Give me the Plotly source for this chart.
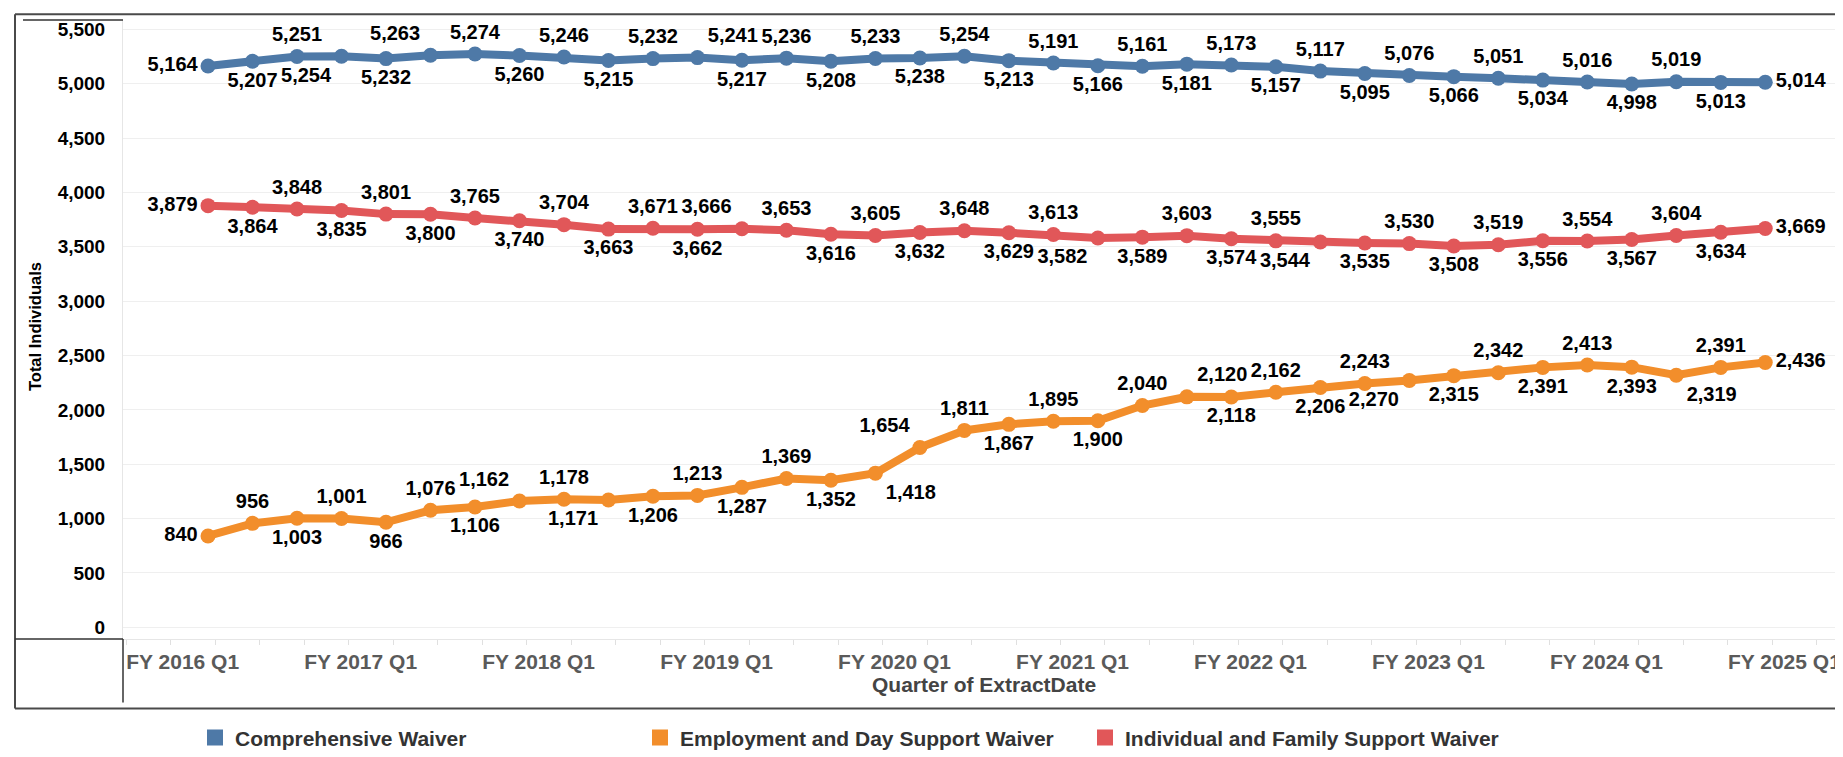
import plotly.graph_objects as go

# ---------------- data ----------------
quarters = [
    "FY 2016 Q3", "FY 2016 Q4",
    "FY 2017 Q1", "FY 2017 Q2", "FY 2017 Q3", "FY 2017 Q4",
    "FY 2018 Q1", "FY 2018 Q2", "FY 2018 Q3", "FY 2018 Q4",
    "FY 2019 Q1", "FY 2019 Q2", "FY 2019 Q3", "FY 2019 Q4",
    "FY 2020 Q1", "FY 2020 Q2", "FY 2020 Q3", "FY 2020 Q4",
    "FY 2021 Q1", "FY 2021 Q2", "FY 2021 Q3", "FY 2021 Q4",
    "FY 2022 Q1", "FY 2022 Q2", "FY 2022 Q3", "FY 2022 Q4",
    "FY 2023 Q1", "FY 2023 Q2", "FY 2023 Q3", "FY 2023 Q4",
    "FY 2024 Q1", "FY 2024 Q2", "FY 2024 Q3", "FY 2024 Q4",
    "FY 2025 Q1", "FY 2025 Q2",
]

year_ticks = [
    "FY 2016 Q1", "FY 2017 Q1", "FY 2018 Q1", "FY 2019 Q1", "FY 2020 Q1",
    "FY 2021 Q1", "FY 2022 Q1", "FY 2023 Q1", "FY 2024 Q1", "FY 2025 Q1",
]

comprehensive = [
    5164, 5207, 5251, 5254, 5232, 5263, 5274, 5260, 5246, 5215,
    5232, 5241, 5217, 5236, 5208, 5233, 5238, 5254, 5213, 5191,
    5166, 5161, 5181, 5173, 5157, 5117, 5095, 5076, 5066, 5051,
    5034, 5016, 4998, 5019, 5013, 5014,
]
employment = [
    840, 956, 1003, 1001, 966, 1076, 1106, 1162, 1178, 1171,
    1206, 1213, 1287, 1369, 1352, 1418, 1654, 1811, 1867, 1895,
    1900, 2040, 2120, 2118, 2162, 2206, 2243, 2270, 2315, 2342,
    2391, 2413, 2393, 2319, 2391, 2436,
]
individual = [
    3879, 3864, 3848, 3835, 3801, 3800, 3765, 3740, 3704, 3663,
    3671, 3662, 3666, 3653, 3616, 3605, 3632, 3648, 3629, 3613,
    3582, 3589, 3603, 3574, 3555, 3544, 3535, 3530, 3508, 3519,
    3556, 3554, 3567, 3604, 3634, 3669,
]

y_ticks = [0, 500, 1000, 1500, 2000, 2500, 3000, 3500, 4000, 4500, 5000, 5500]

series_names = [
    "Comprehensive Waiver",
    "Employment and Day Support Waiver",
    "Individual and Family Support Waiver",
]

# ---------------- label placement (style) ----------------
T, B = "top center", "bottom center"
TL, TR = "top left", "top right"
BL, BR = "bottom left", "bottom right"
L, R = "middle left", "middle right"
pos_comp = [L, B, T, BL, B, TL, T, B, T, B, T, TR, B, T, B, T, B, T, B, T,
            B, T, B, T, B, T, B, T, B, T, B, T, B, T, B, R]
pos_emp = [L, T, B, T, B, T, B, TL, T, BL, B, T, B, T, B, BR, TL, T, B, T,
           B, T, TR, B, T, B, T, BL, B, T, B, T, B, BR, T, R]
pos_ind = [L, B, T, B, T, B, T, B, T, B, T, B, TL, T, B, T, B, T, B, T,
           BL, B, T, B, T, BL, B, T, B, T, B, T, B, T, B, R]


def qidx(label):
    fy = int(label[3:7])
    q = int(label[-1])
    return (fy - 2016) * 4 + (q - 1)


x = [qidx(q) for q in quarters]
year_x = [qidx(t) + 1.43 for t in year_ticks]
minor_x = [qidx(t) + 0.16 + k for t in year_ticks for k in range(4)]

BLUE = "#4E79A7"
ORANGE = "#F28E2B"
RED = "#E15759"
FONT = "Liberation Sans, Arial, sans-serif"

fig = go.Figure()


def add_series(name, vals, color, positions):
    fig.add_trace(go.Scatter(
        x=x, y=vals, mode="lines+markers+text", name=name,
        line=dict(color=color, width=8),
        marker=dict(color=color, size=15),
        text=[f"{v:,}" for v in vals],
        textposition=positions,
        textfont=dict(family=FONT, size=20, color="#000000", weight="bold"),
        showlegend=False, hoverinfo="x+y", cliponaxis=False,
    ))
    fig.add_trace(go.Scatter(
        x=[None], y=[None], mode="markers", name=name,
        marker=dict(color=color, size=17, symbol="square"),
        showlegend=True,
    ))


add_series(series_names[0], comprehensive, BLUE, pos_comp)
add_series(series_names[1], employment, ORANGE, pos_emp)
add_series(series_names[2], individual, RED, pos_ind)

# ---------------- geometry ----------------
W, H = 1843, 757
ML, MR, MT, MB = 115, 7, 12, 112
PW = W - ML - MR
PH = H - MT - MB


def px(xp):
    return (xp - ML) / PW


def py(yp):
    return (H - MB - yp) / PH


shapes = []
dark = "#333333"
border = "#4a4a4a"
# outer border (top, left, bottom)
shapes.append(dict(type="line", xref="paper", yref="paper", x0=px(7), x1=px(1845), y0=py(6), y1=py(6),
                   line=dict(color=border, width=2)))
shapes.append(dict(type="line", xref="paper", yref="paper", x0=px(7), x1=px(7), y0=py(6), y1=py(716),
                   line=dict(color=border, width=2)))
shapes.append(dict(type="line", xref="paper", yref="paper", x0=px(7), x1=px(1845), y0=py(716), y1=py(716),
                   line=dict(color=border, width=2)))
# header separators
shapes.append(dict(type="line", xref="paper", yref="paper", x0=px(15), x1=px(115), y0=py(12), y1=py(12),
                   line=dict(color=dark, width=1.5)))
shapes.append(dict(type="line", xref="paper", yref="paper", x0=px(7), x1=px(115), y0=0, y1=0,
                   line=dict(color=dark, width=1.5)))
shapes.append(dict(type="line", xref="paper", yref="paper", x0=0, x1=0, y0=0, y1=py(710),
                   line=dict(color=dark, width=1.5)))
shapes.append(dict(type="line", xref="paper", yref="paper", x0=px(1840), x1=px(1840), y0=0, y1=py(710),
                   line=dict(color=dark, width=1.5)))

annotations = [
    dict(text="Total Individuals", xref="paper", yref="paper", x=px(27), y=py(326),
         textangle=-90, showarrow=False, xanchor="center", yanchor="middle",
         font=dict(family=FONT, size=16.5, color="#000000", weight="bold")),
    dict(text="Quarter of ExtractDate", xref="paper", yref="paper", x=0.5, y=py(692),
         showarrow=False, xanchor="center", yanchor="middle",
         font=dict(family=FONT, size=21, color="#444444", weight="bold")),
]

# x range: quarter spacing ≈ 44.5 px, first point at ≈ 200 px
x_lo = 0.089
x_hi = 38.77

fig.update_layout(
    width=W, height=H,
    margin=dict(l=ML, r=MR, t=MT, b=MB, pad=0),
    paper_bgcolor="white", plot_bgcolor="white",
    font=dict(family=FONT, color="#000000"),
    shapes=shapes, annotations=annotations,
    showlegend=True,
    legend=dict(orientation="h", x=px(187), xanchor="left", y=py(746), yanchor="middle",
                font=dict(family=FONT, size=21, color="#333333", weight="bold"),
                entrywidth=400, entrywidthmode="pixels", itemclick=False,
                bgcolor="rgba(0,0,0,0)"),
    xaxis=dict(
        range=[x_lo, x_hi], showgrid=False, zeroline=False,
        showline=True, linecolor="#e6e6e6", linewidth=1,
        tickmode="array", tickvals=year_x, ticktext=year_ticks,
        ticks="", ticklabelstandoff=4,
        tickfont=dict(family=FONT, size=21, color="#5a5a5a", weight="bold"),
        minor=dict(tickmode="array", tickvals=minor_x,
                   ticks="outside", ticklen=5, tickcolor="#e0e0e0", tickwidth=1, showgrid=False),
        fixedrange=True,
    ),
    yaxis=dict(
        range=[-108, 5587], tickmode="array", tickvals=y_ticks,
        tickformat=",", showgrid=True, gridcolor="#efefef", gridwidth=1,
        zeroline=False, showline=True, linecolor="#e6e6e6", linewidth=1,
        ticks="", ticklabelstandoff=13,
        tickfont=dict(family=FONT, size=19, color="#000000", weight="bold"),
        fixedrange=True,
    ),
)

fig.write_html("out.html")
